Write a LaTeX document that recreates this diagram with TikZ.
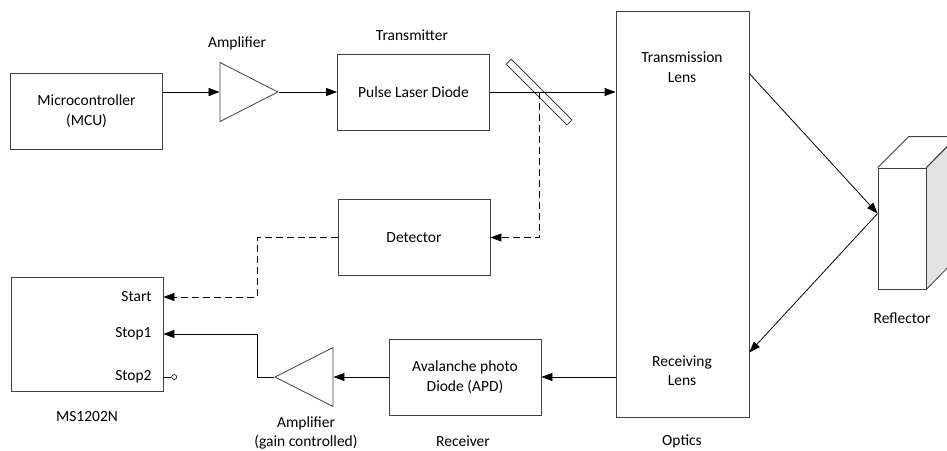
\documentclass[tikz,border=0pt]{standalone}
\usepackage{fontspec}
\setmainfont{Carlito}
\usetikzlibrary{shapes.geometric,arrows.meta}
\definecolor{edge}{HTML}{404040}
\definecolor{side}{HTML}{E3E3E3}
\tikzstyle{block} = [draw=edge, rectangle, text centered, align=center, minimum width=152, minimum height=76]
\tikzstyle{amp} = [draw=edge, isosceles triangle, isosceles triangle stretches, minimum width=59, minimum height=58, inner sep=0]
\tikzstyle{caption} = [align=center]
\tikzstyle{port} = [anchor=east, inner sep=0]
\tikzstyle{arr} = [-{Triangle[length=11pt,width=8pt]}]
\tikzstyle{dasharr} = [arr, dash pattern=on 7pt off 4pt]

\begin{document}
\begin{tikzpicture}[x=1pt, y=1pt, font=\fontsize{15.5}{19.5}\selectfont, line width=0.8pt]
    \useasboundingbox (0,0) rectangle (947,-450);
    \draw (86.5,-111)  node[block] (mcu) {Microcontroller \\ (MCU)};
    \draw (279,-92)    node[amp, anchor=apex] (ampa) {};
    \draw (413.5,-92)  node[block] (pld) {Pulse Laser Diode};
    \draw (539,-92)    node[draw=edge, rectangle, rotate=-45, minimum width=86, minimum height=7, inner sep=0] (split) {};
    \draw (682.5,-214) node[block, minimum width=133, minimum height=406] (optics) {};
    \draw (682,-67)    node[caption] (tlens) {Transmission \\ Lens};
    \draw (682,-370.5) node[caption] (rlens) {Receiving \\ Lens};
    \draw (414,-237.5) node[block] (det) {Detector};
    \draw (87,-334)    node[block, minimum height=114] (ms) {};
    \draw (152,-297)   node[port] (start) {Start};
    \draw (152,-334)   node[port] (stopa) {Stop1};
    \draw (152,-377)   node[port] (stopb) {Stop2};
    \draw (274,-377)   node[amp, shape border rotate=180, anchor=apex] (ampb) {};
    \draw (465,-377)   node[block] (apd) {Avalanche photo \\ Diode (APD)};
    \draw (902,-228.5) node[draw=edge, rectangle, minimum width=48, minimum height=121, inner sep=0] (refl) {};
    \coordinate (bend) at (257,-238);
    \filldraw[draw=edge, fill=side] (refl.north east) -- ++(31,31) -- ++(0,-121) -- (refl.south east) -- cycle;
    \draw[edge] (refl.north west) -- ++(31,31) -- ++(48,0) -- (refl.north east);
    \draw (237,-43)  node (lampa) {Amplifier};
    \draw (412,-35)  node (ltx) {Transmitter};
    \draw (902,-318) node (lrefl) {Reflector};
    \draw (682,-445) node[anchor=base, inner sep=0] (lopt) {Optics};
    \draw (463,-446) node[anchor=base, inner sep=0] (lrx) {Receiver};
    \draw (87,-417)  node (lms) {MS1202N};
    \draw (306,-433) node[caption] (lampb) {Amplifier \\ (gain controlled)};
    \draw[arr] (mcu.east |- ampa.lower side) -- (ampa.lower side);
    \draw[arr] (ampa.apex) -- (pld.west |- ampa.apex);
    \draw[arr] (pld.east) -- (optics.west |- pld.east);
    \draw[dasharr] (split.center) |- (det.east);
    \draw[dasharr] (det.west) -- (det.west -| bend) |- (ms.east |- start);
    \draw[arr] (ampb.apex) -- (ampb.apex -| bend) |- (ms.east |- stopa);
    \draw (ms.east |- stopb) -- ++(8,0) node[circle, draw, inner sep=0, minimum size=5, anchor=west, line width=0.6pt] (stopc) {};
    \draw[arr] (optics.west |- apd.east) -- (apd.east);
    \draw[arr] (apd.west) -- (ampb.lower side);
    \draw[arr] ([yshift=-63pt]optics.north east) -- ([yshift=15pt]refl.west);
    \draw[arr] ([yshift=15pt]refl.west) -- ([yshift=65pt]optics.south east);
\end{tikzpicture}
\end{document}
